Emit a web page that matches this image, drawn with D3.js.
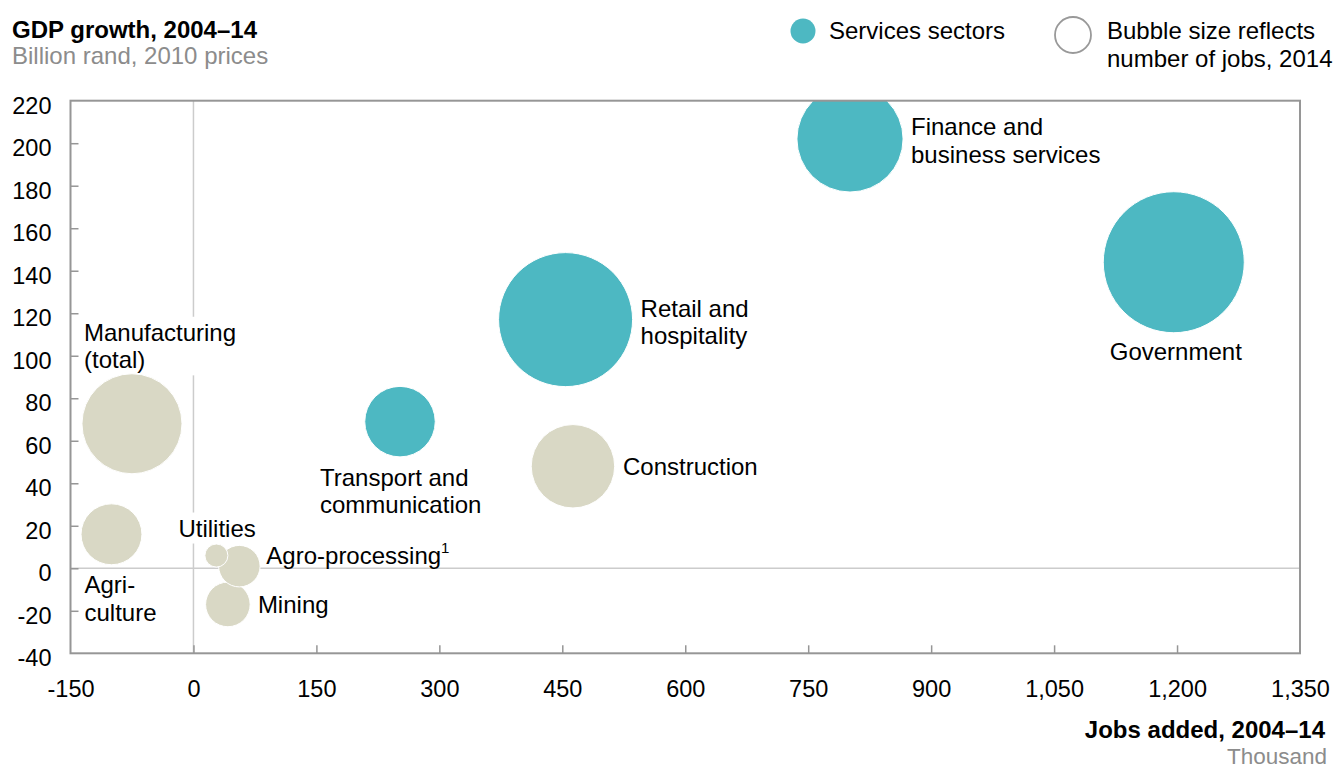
<!DOCTYPE html>
<html>
<head>
<meta charset="utf-8">
<script src="https://cdn.jsdelivr.net/npm/d3@7"></script>
<style>
  html, body { margin: 0; padding: 0; background: #fff; }
  svg { display: block; font-family: "Liberation Sans", Arial, Helvetica, sans-serif; }
</style>
</head>
<body>
<svg id="chart" width="1333" height="767"></svg>
<script>
// Sectors of the economy, 2004–14
const sectors = [
  "Government", "Retail and hospitality", "Finance and business services",
  "Manufacturing (total)", "Construction", "Transport and communication",
  "Agriculture", "Mining", "Utilities", "Agro-processing"
];
// Jobs added 2004–14, thousand
const jobsAdded = [1196, 454, 801, -75, 463, 252, -100, 42, 28, 56];
// GDP growth 2004–14, billion rand (2010 prices)
const gdpGrowth = [144, 117, 202, 68, 48, 69, 16, -17, 6, 1];
// Number of jobs in 2014, thousand (bubble size)
const jobs2014 = [3000, 2710, 1700, 1510, 1050, 750, 560, 300, 80, 260];
// Services sectors are highlighted
const isServices = [true, true, true, false, false, true, false, false, false, false];

const xTicks = [-150, 0, 150, 300, 450, 600, 750, 900, 1050, 1200, 1350];
const yTicks = [-40, -20, 0, 20, 40, 60, 80, 100, 120, 140, 160, 180, 200, 220];

// Label text and placement relative to each bubble centre (px)
const labelLines = [
  ["Government"], ["Retail and", "hospitality"], ["Finance and", "business services"],
  ["Manufacturing", "(total)"], ["Construction"], ["Transport and", "communication"],
  ["Agri-", "culture"], ["Mining"], ["Utilities"], ["Agro-processing"]
];
const labelLayout = [
  { dx: 2, dy: 98, anchor: "middle" },
  { dx: 75, dy: -3, anchor: "start" },
  { dx: 61, dy: -4, anchor: "start" },
  { dx: -48, dy: -83, anchor: "start", knockout: true },
  { dx: 50, dy: 9, anchor: "start" },
  { dx: -80, dy: 64, anchor: "start" },
  { dx: -27, dy: 59, anchor: "start" },
  { dx: 30, dy: 9, anchor: "start" },
  { dx: -38, dy: -19, anchor: "start", knockout: true },
  { dx: 27, dy: -2, anchor: "start", sup: "1" }
];

const TEAL = "#4db8c2";
const BEIGE = "#d9d8c5";
const FRAME = "#969696";
const ZERO = "#cccccc";

const svg = d3.select("#chart");
const plotL = 70.5, plotR = 1300, plotT = 100.7, plotB = 653.3;

const x = d3.scaleLinear().domain([-150, 1350]).range([plotL, plotR]);
const y = d3.scaleLinear().domain([-40, 220]).range([plotB, plotT]);
const r = d3.scaleSqrt().domain([0, 3000]).range([0, 70.5]);

const fmt = d3.formatLocale({ decimal: ".", thousands: ",", grouping: [3], currency: ["", ""], minus: "-" }).format(",");

// Clip for the plot area
svg.append("defs").append("clipPath").attr("id", "plot-clip")
  .append("rect").attr("x", plotL).attr("y", plotT).attr("width", plotR - plotL).attr("height", plotB - plotT);

// Zero reference lines
svg.append("line").attr("x1", x(0)).attr("x2", x(0)).attr("y1", plotT).attr("y2", plotB)
  .attr("stroke", ZERO).attr("stroke-width", 1.5);
svg.append("line").attr("x1", plotL).attr("x2", plotR).attr("y1", y(0)).attr("y2", y(0))
  .attr("stroke", ZERO).attr("stroke-width", 1.5);

// Axes
const yAxis = svg.append("g").attr("transform", `translate(${plotL},0)`)
  .call(d3.axisLeft(y).tickValues(yTicks).tickSizeInner(-8).tickSizeOuter(0).tickFormat(fmt));
yAxis.select(".domain").remove();
yAxis.attr("font-family", null).attr("font-size", 23.5);
yAxis.selectAll(".tick line").attr("stroke", FRAME).attr("stroke-width", 1.5);
yAxis.selectAll(".tick text").attr("x", -19).attr("dy", 12.3).attr("text-anchor", "end").attr("fill", "#000");
yAxis.selectAll(".tick").filter(d => d === 220 || d === -40).select("line").remove();

const xAxis = svg.append("g").attr("transform", `translate(0,${plotB})`)
  .call(d3.axisBottom(x).tickValues(xTicks).tickSizeInner(-8).tickSizeOuter(0).tickFormat(fmt));
xAxis.select(".domain").remove();
xAxis.attr("font-family", null).attr("font-size", 23.5);
xAxis.selectAll(".tick line").attr("stroke", FRAME).attr("stroke-width", 1.5);
xAxis.selectAll(".tick text").attr("y", 43.5).attr("dy", 0).attr("fill", "#000");
xAxis.selectAll(".tick").filter(d => d === -150 || d === 1350).select("line").remove();

// Label knockout boxes sit under the labels but over the zero lines
const knockLayer = svg.append("g");

// Bubbles
const order = d3.range(sectors.length).sort((a, b) => jobs2014[b] - jobs2014[a]);
svg.append("g").attr("clip-path", "url(#plot-clip)")
  .selectAll("circle").data(order).join("circle")
  .attr("cx", i => x(jobsAdded[i]))
  .attr("cy", i => y(gdpGrowth[i]))
  .attr("r", i => r(jobs2014[i]))
  .attr("fill", i => isServices[i] ? TEAL : BEIGE)
  .attr("stroke", "#fff").attr("stroke-width", 1);

// Frame
svg.append("rect").attr("x", plotL).attr("y", plotT).attr("width", plotR - plotL).attr("height", plotB - plotT)
  .attr("fill", "none").attr("stroke", FRAME).attr("stroke-width", 2);

// Bubble labels
const labels = svg.append("g").attr("font-size", 24).attr("fill", "#000");
sectors.forEach((s, i) => {
  const L = labelLayout[i];
  const t = labels.append("text")
    .attr("x", x(jobsAdded[i]) + L.dx)
    .attr("y", y(gdpGrowth[i]) + L.dy)
    .attr("text-anchor", L.anchor);
  labelLines[i].forEach((line, k) => {
    t.append("tspan").attr("x", x(jobsAdded[i]) + L.dx).attr("dy", k === 0 ? 0 : 27.6).text(line);
  });
  if (L.sup) {
    t.append("tspan").attr("font-size", 15).attr("dy", -11).text(L.sup);
  }
  if (L.knockout) {
    const b = t.node().getBBox();
    knockLayer.append("rect").attr("x", b.x - 2).attr("y", b.y - 2)
      .attr("width", b.width + 4).attr("height", b.height + 4).attr("fill", "#fff");
  }
});

// Titles
svg.append("text").attr("x", 12).attr("y", 37.5).attr("font-size", 24).attr("font-weight", "bold")
  .attr("fill", "#000").text("GDP growth, 2004–14");
svg.append("text").attr("x", 12).attr("y", 63.5).attr("font-size", 24)
  .attr("fill", "#8c8c8c").text("Billion rand, 2010 prices");
svg.append("text").attr("x", 1325).attr("y", 737.5).attr("text-anchor", "end").attr("font-size", 24)
  .attr("font-weight", "bold").attr("fill", "#000").text("Jobs added, 2004–14");
svg.append("text").attr("x", 1327).attr("y", 763.5).attr("text-anchor", "end").attr("font-size", 22.5)
  .attr("fill", "#8c8c8c").text("Thousand");

// Legend
const legend = svg.append("g").attr("font-size", 24).attr("fill", "#000");
legend.append("circle").attr("cx", 803).attr("cy", 31).attr("r", 12.5).attr("fill", TEAL);
legend.append("text").attr("x", 829).attr("y", 39).text("Services sectors");
legend.append("circle").attr("cx", 1073).attr("cy", 35).attr("r", 18)
  .attr("fill", "none").attr("stroke", "#999").attr("stroke-width", 1.8);
const lt = legend.append("text").attr("x", 1107).attr("y", 39);
lt.append("tspan").attr("x", 1107).attr("dy", 0).text("Bubble size reflects");
lt.append("tspan").attr("x", 1107).attr("dy", 28).text("number of jobs, 2014");
</script>
</body>
</html>
